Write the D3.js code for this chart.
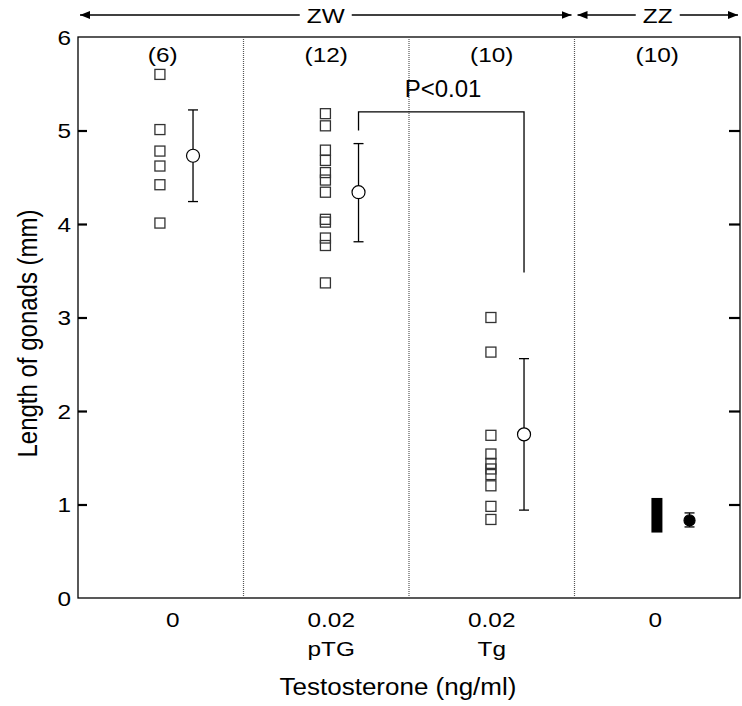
<!DOCTYPE html>
<html>
<head>
<meta charset="utf-8">
<script src="https://cdn.jsdelivr.net/npm/d3@7"></script>
<style>
  body { margin: 0; background: #fff; }
  text { font-family: "Liberation Sans", Arial, sans-serif; fill: #000; }
</style>
</head>
<body>
<svg id="chart" width="742" height="706"></svg>
<script>
// groups along the x axis
const groups = ["ctrl", "pTG", "Tg", "ZZ"];
const doseLabels = ["0", "0.02", "0.02", "0"];
const subLabels = ["", "pTG", "Tg", ""];
const counts = ["(6)", "(12)", "(10)", "(10)"];

// individual gonad lengths (mm)
const ctrlValues = [5.6, 5.01, 4.78, 4.62, 4.42, 4.01];
const pTGValues = [5.18, 5.05, 4.79, 4.68, 4.55, 4.47, 4.34, 4.05, 4.02, 3.85, 3.77, 3.37];
const TgValues = [3.0, 2.63, 1.74, 1.54, 1.44, 1.38, 1.32, 1.2, 0.98, 0.84];
const zzRange = [0.70, 1.07];

// mean and SD
const means = [4.73, 4.34, 1.75, 0.83];
const sdLow = [4.24, 3.81, 0.94, 0.76];
const sdHigh = [5.22, 4.86, 2.56, 0.91];

const yTicks = [0, 1, 2, 3, 4, 5, 6];

const svg = d3.select("#chart");
const margin = {left: 78, right: 2, top: 37, bottom: 108};
const W = 742, H = 706;
const SX = 1.16;   // the figure's lettering is a little wide

const x = d3.scaleBand().domain(groups).range([margin.left, W - margin.right]).padding(0);
const y = d3.scaleLinear().domain([0, 6]).range([H - margin.bottom, margin.top]);
const bw = x.bandwidth();
const ptX = g => x(g) + bw * 0.495;
const meanX = g => x(g) + bw * 0.695;

// text with horizontal stretch
function label(sel, tx, ty, str, size, anchor = "middle", sx = SX) {
    return sel.append("g")
        .attr("transform", `translate(${tx},${ty}) scale(${sx},1)`)
        .append("text")
        .attr("text-anchor", anchor)
        .attr("font-size", size)
        .text(str);
}

// frame
svg.append("rect")
    .attr("x", margin.left).attr("y", y(6))
    .attr("width", W - margin.right - margin.left).attr("height", y(0) - y(6))
    .attr("fill", "none").attr("stroke", "#000").attr("stroke-width", 1.3);

// dotted dividers
svg.selectAll(".divider")
    .data(groups.slice(1))
    .join("line")
    .attr("class", "divider")
    .attr("x1", g => x(g)).attr("x2", g => x(g))
    .attr("y1", y(6)).attr("y2", y(0))
    .attr("stroke", "#555").attr("stroke-width", 1.2)
    .attr("stroke-dasharray", "1,1");

// y axis, ticks inside
const yAxis = svg.append("g")
    .attr("transform", `translate(${margin.left},0)`)
    .call(d3.axisRight(y).tickValues(yTicks).tickSize(9).tickFormat(""));
yAxis.select(".domain").remove();
yAxis.selectAll(".tick line").attr("stroke-width", 2.2).filter(d => d === 0 || d === 6).remove();

yTicks.forEach(d => label(svg, margin.left - 7, y(d) + 7.5, d, 21, "end"));

// right ticks
const rAxis = svg.append("g")
    .attr("transform", `translate(${W - margin.right},0)`)
    .call(d3.axisLeft(y).tickValues(yTicks.filter(d => d > 0 && d < 6)).tickSize(11).tickFormat(""));
rAxis.select(".domain").remove();
rAxis.selectAll(".tick line").attr("stroke-width", 2.2);

// y title
svg.append("text")
    .attr("transform", `translate(37,${(y(0) + y(6)) / 2 + 16}) rotate(-90) scale(1,1.15)`)
    .attr("text-anchor", "middle")
    .attr("font-size", 24)
    .text("Length of gonads (mm)");

// x labels
const nudge = [12, 5, 0, -2];
groups.forEach((g, i) => {
    const cx = x(g) + bw / 2 + nudge[i];
    label(svg, cx, 627, doseLabels[i], 21);
    if (subLabels[i]) label(svg, cx, 656, subLabels[i], 21);
});
label(svg, (margin.left + W - margin.right) / 2 - 11, 695, "Testosterone (ng/ml)", 23, "middle", 1.13);

// n labels
groups.forEach((g, i) => label(svg, x(g) + bw / 2 + (i === 0 ? 2 : 0), 62, counts[i], 21));

// genotype header arrows
svg.append("defs").append("marker")
    .attr("id", "arr")
    .attr("viewBox", "0 0 10 10").attr("refX", 10).attr("refY", 5)
    .attr("markerWidth", 10).attr("markerHeight", 10)
    .attr("markerUnits", "userSpaceOnUse")
    .attr("orient", "auto-start-reverse")
    .append("path").attr("d", "M0,1 L10,5 L0,9 Z").attr("fill", "#000");

const headers = [
    {label: "ZW", x0: margin.left + 2, x1: x("ZZ") - 3},
    {label: "ZZ", x0: x("ZZ") + 3, x1: W - margin.right - 2}
];
const hy = 15;
headers.forEach(h => {
    const cx = (h.x0 + h.x1) / 2;
    const half = h.label === "ZW" ? 26 : 22;
    svg.append("line")
        .attr("x1", h.x0).attr("x2", cx - half).attr("y1", hy).attr("y2", hy)
        .attr("stroke", "#000").attr("stroke-width", 1.3)
        .attr("marker-start", "url(#arr)");
    svg.append("line")
        .attr("x1", cx + half).attr("x2", h.x1).attr("y1", hy).attr("y2", hy)
        .attr("stroke", "#000").attr("stroke-width", 1.3)
        .attr("marker-end", "url(#arr)");
    label(svg, cx, hy + 7.5, h.label, 21);
});

// individual points
const pts = [
    ...ctrlValues.map(v => ({g: "ctrl", v})),
    ...pTGValues.map(v => ({g: "pTG", v})),
    ...TgValues.map(v => ({g: "Tg", v}))
];
const sq = 10;
svg.selectAll(".pt")
    .data(pts)
    .join("rect")
    .attr("class", "pt")
    .attr("x", d => ptX(d.g) - sq / 2).attr("y", d => y(d.v) - sq / 2)
    .attr("width", sq).attr("height", sq)
    .attr("fill", "none").attr("stroke", "#333").attr("stroke-width", 1.3);

// ZZ: overlapping points drawn as solid block
svg.append("rect")
    .attr("x", ptX("ZZ") - 5).attr("y", y(zzRange[1]))
    .attr("width", 11).attr("height", y(zzRange[0]) - y(zzRange[1]))
    .attr("fill", "#000");

// mean +/- SD
const stats = groups.map((g, i) => ({g, m: means[i], lo: sdLow[i], hi: sdHigh[i], filled: g === "ZZ"}));
const sg = svg.selectAll(".stat").data(stats).join("g").attr("class", "stat");
sg.append("line")
    .attr("x1", d => meanX(d.g)).attr("x2", d => meanX(d.g))
    .attr("y1", d => y(d.lo)).attr("y2", d => y(d.hi))
    .attr("stroke", "#000").attr("stroke-width", 1.3);
sg.selectAll(".cap")
    .data(d => [{g: d.g, v: d.lo}, {g: d.g, v: d.hi}])
    .join("line")
    .attr("class", "cap")
    .attr("x1", d => meanX(d.g) - 5).attr("x2", d => meanX(d.g) + 5)
    .attr("y1", d => y(d.v)).attr("y2", d => y(d.v))
    .attr("stroke", "#000").attr("stroke-width", 1.3);
sg.append("circle")
    .attr("cx", d => meanX(d.g)).attr("cy", d => y(d.m))
    .attr("r", d => d.filled ? 5.5 : 6.5)
    .attr("fill", d => d.filled ? "#000" : "#fff")
    .attr("stroke", "#000").attr("stroke-width", 1.2);

// significance bracket
const bracketTop = 5.2, leftEnd = 5.0, rightEnd = 3.48;
svg.append("path")
    .attr("d", `M${meanX("pTG")},${y(leftEnd)} V${y(bracketTop)} H${meanX("Tg")} V${y(rightEnd)}`)
    .attr("fill", "none").attr("stroke", "#000").attr("stroke-width", 1.3);
label(svg, 443, 97, "P<0.01", 24, "middle", 1);
</script>
</body>
</html>
